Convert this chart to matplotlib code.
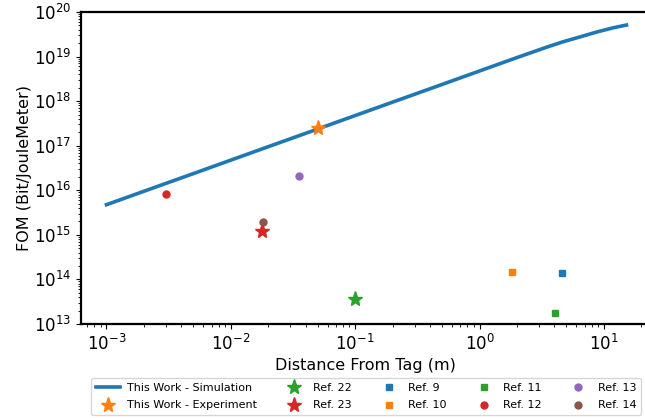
"""FOM vs. distance from tag: simulation curve, measured point and literature refs."""

import matplotlib

matplotlib.use("Agg")
import matplotlib.pyplot as plt  # noqa: E402

# Simulated FOM curve.
sim_dist = [0.001, 0.002, 0.005, 0.01, 0.02, 0.05, 0.1, 0.2, 0.5,
            1.0, 2.0, 3.5, 4.7, 6.4, 8.75, 12.0, 15.2]
sim_fom = [4.75e15, 9.5e15, 2.37e16, 4.75e16, 9.5e16, 2.37e17, 4.75e17,
           9.5e17, 2.37e18, 4.75e18, 9.5e18, 1.64e19, 2.15e19, 2.75e19,
           3.55e19, 4.45e19, 5.1e19]

# This work, measured.
exp_dist = [0.05]
exp_fom = [2.5e17]

# Literature points: label, distance (m), FOM.
ref_labels = ["Ref. 22", "Ref. 23", "Ref. 9", "Ref. 10", "Ref. 11",
              "Ref. 12", "Ref. 13", "Ref. 14"]
ref_dist = [0.1, 0.0177, 4.6, 1.83, 4.02, 0.003, 0.0355, 0.0181]
ref_fom = [3.6e13, 1.2e15, 1.37e14, 1.47e14, 1.8e13, 8.4e15, 2.1e16, 1.95e15]
ref_marker = ["*", "*", "s", "s", "s", "o", "o", "o"]
ref_color = ["C2", "C3", "C0", "C1", "C2", "C3", "C4", "C5"]

fig = plt.figure(figsize=(6.45, 4.18), dpi=100)
# Axes runs slightly past the right edge, as in the cropped original.
ax = fig.add_axes([0.1256, 0.2249, 0.8822, 0.7464])

handles = []
(h,) = ax.plot(sim_dist, sim_fom, color="C0", lw=2.6,
               label="This Work - Simulation")
handles.append(h)
(h,) = ax.plot(exp_dist, exp_fom, ls="none", marker="*", ms=11, color="C1",
               label="This Work - Experiment")
handles.append(h)
for lab, d, f, m, c in zip(ref_labels, ref_dist, ref_fom, ref_marker, ref_color):
    ms = 11 if m == "*" else 5
    (h,) = ax.plot([d], [f], ls="none", marker=m, ms=ms, color=c, label=lab)
    handles.append(h)

ax.set_xscale("log")
ax.set_yscale("log")
ax.set_xlim(6.24e-4, 23.5)
ax.set_ylim(1e13, 1e20)
ax.set_xlabel("Distance From Tag (m)", fontsize=11.5, labelpad=3)
ax.set_ylabel("FOM (Bit/JouleMeter)", fontsize=11.5, labelpad=1)
ax.tick_params(labelsize=12)
for side in ("top", "left", "bottom", "right"):
    ax.spines[side].set_linewidth(1.6)

fig.legend(handles=handles, loc="upper center", ncol=5, fontsize=8,
           bbox_to_anchor=(366 / 645, 1 - 376 / 418), handlelength=2.2,
           columnspacing=2.2, borderaxespad=0.2, handletextpad=0.65,
           labelspacing=0.7)

fig.savefig("out.png", dpi=100)
